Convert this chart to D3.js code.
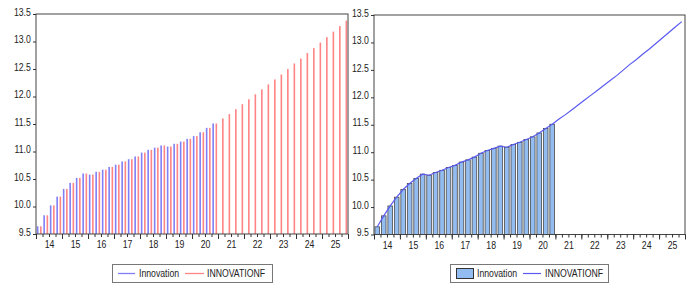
<!DOCTYPE html>
<html>
<head>
<meta charset="utf-8">
<script src="https://cdn.jsdelivr.net/npm/d3@7"></script>
<style>
body { margin: 0; background: #fff; }
text { font-family: "Liberation Sans", Arial, sans-serif; font-size: 10px; fill: #222; }
</style>
</head>
<body>
<svg id="chart" width="700" height="297"></svg>
<script>
// quarterly data, 2014Q1 - 2025Q4
var yearLabels = ["14", "15", "16", "17", "18", "19", "20", "21", "22", "23", "24", "25"];
var quarterNames = ["Q1", "Q2", "Q3", "Q4"];
var yTicks = [9.5, 10.0, 10.5, 11.0, 11.5, 12.0, 12.5, 13.0, 13.5];

// actual series, 2014Q1 - 2020Q4
var innovation = [9.64, 9.84, 10.02, 10.18, 10.32, 10.43, 10.52, 10.60,
    10.58, 10.63, 10.67, 10.72, 10.76, 10.82, 10.86, 10.91,
    10.98, 11.03, 11.07, 11.11, 11.09, 11.14, 11.18, 11.23,
    11.28, 11.35, 11.43, 11.51];

// forecast series, 2014Q1 - 2025Q4
var innovationF = [9.64, 9.84, 10.02, 10.18, 10.32, 10.43, 10.52, 10.60,
    10.58, 10.63, 10.67, 10.72, 10.76, 10.82, 10.86, 10.91,
    10.98, 11.03, 11.07, 11.11, 11.09, 11.14, 11.18, 11.23,
    11.28, 11.35, 11.43, 11.51,
    11.60, 11.68, 11.77, 11.86, 11.95, 12.04, 12.13, 12.22,
    12.31, 12.40, 12.50, 12.60, 12.69, 12.79, 12.88, 12.98,
    13.08, 13.18, 13.28, 13.38];

var periods = [];
yearLabels.forEach(function(yr) {
    quarterNames.forEach(function(q) {
        periods.push("20" + yr + q);
    });
});

var svg = d3.select("#chart");
var sx = 0.87; // the original fonts look horizontally squeezed

function drawPanel(x0, x1, yTop, yBot, mode) {
    var g = svg.append("g");

    var xScale = d3.scaleLinear().domain([0, periods.length]).range([x0, x1]);
    var yScale = d3.scaleLinear().domain([9.5, 13.5]).range([yBot, yTop]);

    if (mode == "spikes") {
        g.selectAll(".act").data(innovation).enter().append("rect")
            .attr("x", function(d, i) { return xScale(i + 0.5) - 2.4; })
            .attr("y", function(d) { return yScale(d); })
            .attr("width", 1.6)
            .attr("height", function(d) { return yBot - yScale(d); })
            .style("fill", "#7f7ff7");

        g.selectAll(".fc").data(innovationF).enter().append("rect")
            .attr("x", function(d, i) { return xScale(i + 0.5) + 0.8; })
            .attr("y", function(d) { return yScale(d); })
            .attr("width", 1.6)
            .attr("height", function(d) { return yBot - yScale(d); })
            .style("fill", "#ff8484");
    } else {
        g.selectAll(".bar").data(innovation).enter().append("rect")
            .attr("x", function(d, i) { return xScale(i + 0.5) - 2.3; })
            .attr("y", function(d) { return yScale(d); })
            .attr("width", 4.6)
            .attr("height", function(d) { return yBot - yScale(d); })
            .style("fill", "#93bcf0")
            .style("stroke", "#4a4a4a")
            .style("stroke-width", 0.8);

        var line = d3.line()
            .x(function(d, i) { return xScale(i + 0.5); })
            .y(function(d) { return yScale(d); });

        g.append("path")
            .datum(innovationF)
            .attr("d", line)
            .style("fill", "none")
            .style("stroke", "#5a5af2")
            .style("stroke-width", 1.2);
    }

    // frame
    g.append("rect")
        .attr("x", x0).attr("y", yTop)
        .attr("width", x1 - x0).attr("height", yBot - yTop)
        .style("fill", "none")
        .style("stroke", "#444")
        .style("stroke-width", 1);

    // y axis
    var yAxis = g.append("g")
        .attr("transform", "translate(" + x0 + ",0)")
        .call(d3.axisLeft(yScale).tickValues(yTicks).tickSize(3).tickFormat(d3.format(".1f")));
    yAxis.select(".domain").remove();
    yAxis.selectAll("line").style("stroke", "#333");
    yAxis.selectAll("text")
        .attr("y", -2)
        .attr("transform", "scale(" + sx + ",1)")
        .style("font-size", "10px")
        .style("fill", "#222");

    // x axis: quarter ticks, year ticks, year labels
    var minor = g.append("g")
        .attr("transform", "translate(0," + yBot + ")")
        .call(d3.axisBottom(xScale).tickValues(d3.range(periods.length + 1)).tickSize(3).tickFormat(""));
    minor.select(".domain").remove();
    minor.selectAll("line").style("stroke", "#333");

    var major = g.append("g")
        .attr("transform", "translate(0," + yBot + ")")
        .call(d3.axisBottom(xScale).tickValues(d3.range(0, periods.length + 1, 4)).tickSize(5).tickFormat(""));
    major.select(".domain").remove();
    major.selectAll("line").style("stroke", "#333");

    var labels = g.append("g")
        .attr("transform", "translate(0," + yBot + ")")
        .call(d3.axisBottom(xScale)
            .tickValues(yearLabels.map(function(d, k) { return k * 4 + 2; }))
            .tickSize(0).tickPadding(7)
            .tickFormat(function(d) { return yearLabels[(d - 2) / 4]; }));
    labels.select(".domain").remove();
    labels.selectAll("text")
        .attr("transform", "scale(" + sx + ",1)")
        .style("font-size", "10px")
        .style("fill", "#222");
}

function legendText(x, y, txt) {
    svg.append("g")
        .attr("transform", "translate(" + x + "," + y + ")")
        .append("text")
        .attr("transform", "scale(" + sx + ",1)")
        .attr("dy", "0.35em")
        .text(txt);
}

drawPanel(36, 348, 14, 234, "spikes");
drawPanel(374, 685, 15, 234.5, "bars");

// left legend
svg.append("rect").attr("x", 112.5).attr("y", 264.5).attr("width", 160).attr("height", 18)
    .style("fill", "#fff").style("stroke", "#777");
svg.append("line").attr("x1", 118).attr("x2", 135).attr("y1", 273.5).attr("y2", 273.5)
    .style("stroke", "#7f7ff7").style("stroke-width", 1.3);
legendText(139, 273, "Innovation");
svg.append("line").attr("x1", 185).attr("x2", 204).attr("y1", 273.5).attr("y2", 273.5)
    .style("stroke", "#ff8484").style("stroke-width", 1.3);
legendText(207, 273, "INNOVATIONF");

// right legend
svg.append("rect").attr("x", 450.5).attr("y", 264.5).attr("width", 158).attr("height", 18)
    .style("fill", "#fff").style("stroke", "#777");
svg.append("rect").attr("x", 456.5).attr("y", 268.5).attr("width", 17).attr("height", 10)
    .style("fill", "#93bcf0").style("stroke", "#333");
legendText(477, 273, "Innovation");
svg.append("line").attr("x1", 523).attr("x2", 541).attr("y1", 273.5).attr("y2", 273.5)
    .style("stroke", "#5a5af2").style("stroke-width", 1.2);
legendText(545, 273, "INNOVATIONF");
</script>
</body>
</html>
